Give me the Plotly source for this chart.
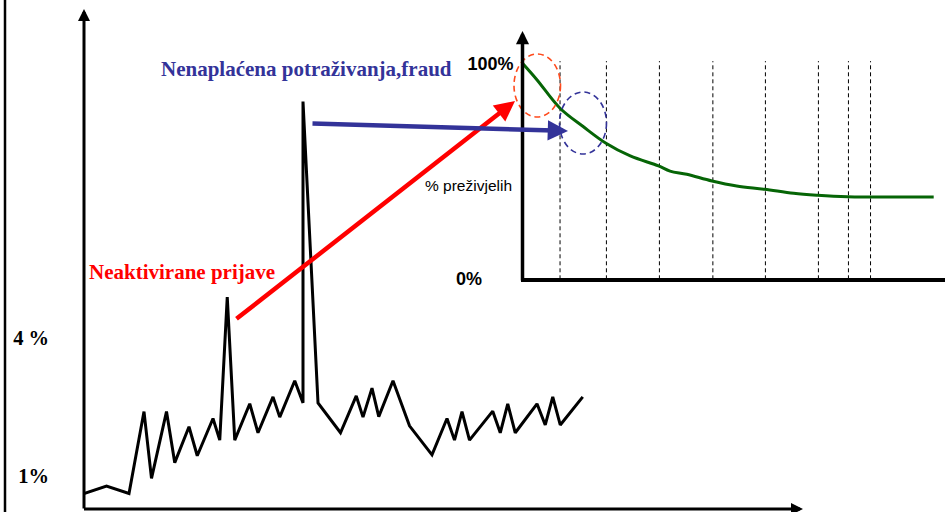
import plotly.graph_objects as go

W, H = 945, 512

# ---------------- data ----------------
# main series: rate over time (x = period index, y = percent)
main_x = [0, 3, 6, 8, 9, 11, 12.1, 14, 15.1, 17.2, 18.1, 19.1, 20.1, 22.1, 23.2, 25.2, 26.1, 28.1,
          29.2, 29.2, 31.2, 34.2, 36.3, 37.2, 38.4, 39.3, 41.2, 43.4, 46.4, 48.4, 49.4, 50.4, 51.4,
          54.5, 55.5, 56.5, 57.5, 60.4, 61.5, 62.5, 63.5, 66.5]
main_y = [0.62, 0.78, 0.62, 2.40, 0.95, 2.40, 1.29, 2.07, 1.44, 2.25, 1.78, 4.89, 1.78, 2.57, 1.94,
          2.72, 2.28, 3.07, 2.59, 9.14, 2.59, 1.94, 2.74, 2.28, 2.91, 2.29, 3.07, 2.09, 1.46, 2.25,
          1.78, 2.40, 1.78, 2.41, 1.94, 2.57, 1.94, 2.57, 2.11, 2.72, 2.11, 2.72]
main_tickvals = [1, 4]
main_ticktext = ["1%", "4 %"]

# inset: survival curve (% surviving)
surv_x = [0, 3.3, 8.5, 13.8, 18.9, 24.4, 30.8, 33.4, 37.2, 42.9, 48.5, 54.8, 61.4, 66.8, 73.6, 78.7, 93.1]
surv_y = [100, 92.3, 79.2, 70.6, 63.0, 57.1, 52.5, 50.1, 48.6, 45.5, 43.2, 41.7, 39.8, 38.9, 38.2, 38.1, 38.1]
period_bounds = [8.5, 19.0, 31.0, 43.1, 55.0, 67.0, 73.8, 78.8]
inset_tickvals = [100]
inset_ticktext = ["100%"]

label_red = "Neaktivirane prijave"
label_blue = "Nenaplaćena potraživanja,fraud"
label_surv = "% preživjelih"

# ---------------- helpers ----------------
def fx(p):
    return p / W


def fy(p):
    return 1 - p / H


SERIF = "Liberation Serif"
SANS = "Liberation Sans"
BLUE = "#333399"
RED = "#ff0000"

fig = go.Figure()

fig.add_trace(go.Scatter(x=main_x, y=main_y, mode="lines",
                         line=dict(color="black", width=3), xaxis="x", yaxis="y",
                         hoverinfo="skip", showlegend=False))

fig.add_trace(go.Scatter(x=surv_x, y=surv_y, mode="lines",
                         line=dict(color="#066506", width=3, shape="spline"), xaxis="x2", yaxis="y2",
                         hoverinfo="skip", showlegend=False))

shapes = []
# dashed period boundaries in inset
for b in period_bounds:
    shapes.append(dict(type="line", xref="x2", yref="y2", x0=b, x1=b, y0=0, y1=101,
                       line=dict(color="black", width=1, dash="4px,3px"), layer="below"))
# inset x axis
shapes.append(dict(type="line", xref="paper", yref="paper", x0=fx(521), x1=fx(945),
                   y0=fy(280), y1=fy(280), line=dict(color="black", width=4)))
# left border line
shapes.append(dict(type="line", xref="paper", yref="paper", x0=fx(5), x1=fx(5),
                   y0=0, y1=1, line=dict(color="black", width=2.5)))
# dashed ellipses
shapes.append(dict(type="circle", xref="paper", yref="paper", x0=fx(514), x1=fx(560.5),
                   y0=fy(117), y1=fy(54), line=dict(color="#ff4a1c", width=1.6, dash="6px,4px")))
shapes.append(dict(type="circle", xref="paper", yref="paper", x0=fx(559.5), x1=fx(606.5),
                   y0=fy(154), y1=fy(92), line=dict(color=BLUE, width=1.6, dash="6px,4px")))

annotations = []


def arrow(hx, hy, tx, ty, color, width, size=1.0):
    annotations.append(dict(x=fx(hx), y=fy(hy), xref="paper", yref="paper",
                            ax=tx - hx, ay=ty - hy, axref="pixel", ayref="pixel",
                            showarrow=True, arrowhead=2, arrowsize=size, arrowwidth=width,
                            arrowcolor=color, text="", standoff=0, startstandoff=0))


# axis arrows
arrow(84, 9, 84, 510, "black", 3, 0.8)
arrow(803, 509, 82.5, 509, "black", 3, 0.8)
arrow(522.5, 31, 522.5, 282, "black", 3.5, 0.75)
# callout arrows
arrow(515, 101, 235, 320, RED, 4.5, 0.9)
arrow(568, 131, 311, 123.5, BLUE, 4.5, 0.9)

# text labels
annotations.append(dict(x=fx(159), y=fy(69), xref="paper", yref="paper", text=label_blue,
                        showarrow=False, xanchor="left", yanchor="middle",
                        font=dict(family=SERIF, size=21, color=BLUE, weight="bold")))
annotations.append(dict(x=fx(87), y=fy(272), xref="paper", yref="paper", text=label_red,
                        showarrow=False, xanchor="left", yanchor="middle",
                        font=dict(family=SERIF, size=21, color=RED, weight="bold")))
annotations.append(dict(x=fx(423), y=fy(185), xref="paper", yref="paper", text=label_surv,
                        showarrow=False, xanchor="left", yanchor="middle",
                        font=dict(family=SANS, size=15.5, color="black")))
annotations.append(dict(x=fx(484), y=0, xref="paper", yref="y2", text="0%",
                        showarrow=False, xanchor="right", yanchor="middle",
                        font=dict(family=SANS, size=18, color="black", weight="bold")))

axis_common = dict(showgrid=False, zeroline=False, showline=False, fixedrange=True)

fig.update_layout(
    width=W, height=H,
    margin=dict(l=0, r=0, t=0, b=0),
    paper_bgcolor="white", plot_bgcolor="rgba(0,0,0,0)",
    showlegend=False,
    xaxis=dict(domain=[84 / W, 1], range=[0, (W - 84) / 7.5], showticklabels=False, **axis_common),
    yaxis=dict(domain=[0, 1], range=[1 - 36 / 46, 1 + 476 / 46], tickmode="array",
               tickvals=main_tickvals, ticktext=main_ticktext, ticks="",
               ticklabelstandoff=34,
               tickfont=dict(family=SERIF, size=20.5, color="black", weight="bold"), **axis_common),
    xaxis2=dict(domain=[522.5 / W, 1], range=[0, (W - 522.5) / 4.4167], anchor="y2",
                showticklabels=False, **axis_common),
    yaxis2=dict(domain=[fy(279.3), fy(20)], range=[0, (279.3 - 20) / 2.16], anchor="x2",
                tickmode="array", tickvals=inset_tickvals, ticktext=inset_ticktext, ticks="",
                ticklabelstandoff=8,
                tickfont=dict(family=SANS, size=18, color="black", weight="bold"), **axis_common),
    shapes=shapes,
    annotations=annotations,
)

fig.write_html("out.html", config={"displayModeBar": False},
               post_script="document.body.style.margin='0';document.body.style.overflow='hidden';")
